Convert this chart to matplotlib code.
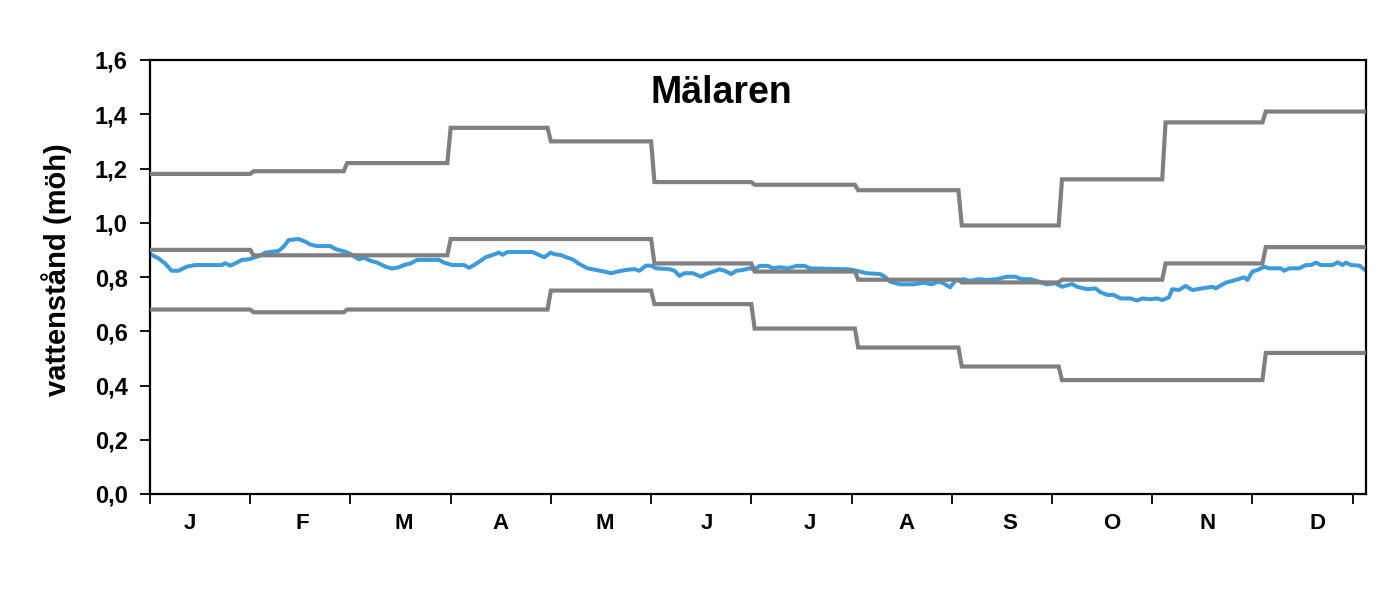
import numpy as np
import matplotlib
matplotlib.use("Agg")
import matplotlib.pyplot as plt

# ---- data ----
month_lengths = [31, 28, 31, 30, 31, 30, 31, 31, 30, 31, 30, 31]
month_labels = ["J", "F", "M", "A", "M", "J", "J", "A", "S", "O", "N", "D"]
month_label_days = [12, 45.6, 76, 105, 136, 166.6, 197.5, 226.6, 257.5, 288, 316.7, 349.4]

max_level = [1.18, 1.19, 1.22, 1.35, 1.30, 1.15, 1.14, 1.12, 0.99, 1.16, 1.37, 1.41]
mean_level = [0.90, 0.88, 0.88, 0.94, 0.94, 0.85, 0.82, 0.79, 0.78, 0.79, 0.85, 0.91]
min_level = [0.68, 0.67, 0.68, 0.68, 0.75, 0.70, 0.61, 0.54, 0.47, 0.42, 0.42, 0.52]

obs_day = [0, 2.5, 4.5, 6.5, 8.5, 11, 13.5, 21.5, 22.5, 24, 25.5, 27.5, 29.5, 31.5, 33,
           34.5, 36.5, 38.5, 40, 41.5, 44.5, 46.5, 48, 50, 54, 55.5, 58.5, 60, 62.5, 64,
           66, 68, 70.5, 72.5, 74.5, 76, 78, 80, 86.5, 88, 90.5, 94, 95.5, 97, 98.5,
           100.5, 102.5, 104.5, 105.5, 107, 114.5, 116.5, 118, 120, 121, 123, 124.5,
           126.5, 128.5, 131, 133.5, 136, 138, 140, 142.5, 145, 146.5, 148.5, 150, 151.5,
           155.5, 157, 158.5, 160, 162.5, 165, 166.5, 168.5, 170.5, 172, 174, 175.5,
           177.5, 179.5, 181, 182.5, 185, 186.5, 188.5, 191, 193.5, 196, 197.5, 209.5,
           212.5, 214.5, 218.5, 220, 221.5, 224.5, 228.5, 231.5, 234, 236, 237.5, 239.5,
           241, 243.5, 245.5, 248, 250.5, 253.5, 256.5, 259, 261, 263.5, 266, 268.5, 271,
           273, 276, 277.5, 280.5, 283, 284.5, 286.5, 288.5, 290.5, 293.5, 295.5, 297,
           299.5, 301.5, 303, 305, 306, 308, 310, 312, 315, 318, 319, 322, 325, 327.5,
           328.5, 330, 332, 333.5, 335, 338.5, 339.5, 341, 344, 346, 347.5, 349, 350.5,
           354, 355.5, 357, 358, 359.5, 362, 363.5]
obs_level = [0.885, 0.869, 0.850, 0.823, 0.823, 0.838, 0.844, 0.844, 0.851, 0.842, 0.850,
             0.863, 0.865, 0.873, 0.879, 0.890, 0.893, 0.896, 0.912, 0.936, 0.940, 0.930,
             0.920, 0.914, 0.914, 0.903, 0.893, 0.885, 0.865, 0.871, 0.860, 0.853, 0.838,
             0.831, 0.836, 0.844, 0.850, 0.863, 0.863, 0.853, 0.844, 0.844, 0.834, 0.844,
             0.856, 0.873, 0.881, 0.890, 0.882, 0.892, 0.892, 0.881, 0.873, 0.890, 0.884,
             0.881, 0.873, 0.865, 0.848, 0.832, 0.826, 0.820, 0.814, 0.820, 0.826, 0.829,
             0.823, 0.842, 0.842, 0.832, 0.829, 0.823, 0.804, 0.814, 0.814, 0.801, 0.811,
             0.820, 0.828, 0.823, 0.811, 0.823, 0.826, 0.832, 0.828, 0.841, 0.841, 0.832,
             0.836, 0.832, 0.841, 0.841, 0.832, 0.828, 0.820, 0.814, 0.811, 0.801, 0.783,
             0.773, 0.773, 0.779, 0.773, 0.783, 0.777, 0.762, 0.786, 0.792, 0.786, 0.792,
             0.789, 0.792, 0.801, 0.801, 0.792, 0.792, 0.783, 0.773, 0.777, 0.764, 0.774,
             0.764, 0.755, 0.758, 0.744, 0.734, 0.734, 0.721, 0.721, 0.713, 0.721, 0.718,
             0.721, 0.715, 0.725, 0.755, 0.752, 0.767, 0.752, 0.758, 0.764, 0.758, 0.779,
             0.789, 0.799, 0.789, 0.820, 0.828, 0.838, 0.832, 0.832, 0.823, 0.832, 0.832,
             0.844, 0.844, 0.853, 0.844, 0.844, 0.854, 0.844, 0.853, 0.844, 0.842, 0.828]

y_ticks = [0.0, 0.2, 0.4, 0.6, 0.8, 1.0, 1.2, 1.4, 1.6]


def step_series(values):
    starts = np.concatenate([[0], np.cumsum(month_lengths)[:-1]])
    ends = starts + np.array(month_lengths) - 1
    xs, ys = [], []
    for s, e, v in zip(starts, ends, values):
        xs += [s, e]
        ys += [v, v]
    return np.array(xs, float), np.array(ys, float)


plt.rcParams['font.family'] = ['Liberation Sans', 'DejaVu Sans']

fig = plt.figure(figsize=(13.88, 6.16), dpi=100)
ax = fig.add_axes([150 / 1388, 1 - 494 / 616, 1216 / 1388, 434 / 616])

blue = "#3E9BDA"
gray = "#808080"
ax.plot(obs_day, obs_level, color=blue, lw=2.9, zorder=2, solid_joinstyle="round")
for series in (max_level, mean_level, min_level):
    x, y = step_series(series)
    ax.plot(x, y, color=gray, lw=3.0, zorder=3, solid_joinstyle="miter")

ax.set_xlim(0, 364)
ax.set_ylim(0, 1.6)

ax.set_yticks(y_ticks)
ax.set_yticklabels([f"{t:.1f}".replace(".", ",") for t in y_ticks],
                   fontsize=17, fontweight="bold")
ax.set_xticks(np.arange(0, 361, 30))
ax.set_xticklabels([])
ax.set_xticks(month_label_days, minor=True)
ax.set_xticklabels(month_labels, minor=True, fontsize=16, fontweight="bold")
ax.tick_params(axis="x", which="minor", length=0, pad=14)
ax.tick_params(axis="x", which="major", length=7, width=1.3, direction="out")
ax.tick_params(axis="y", length=7, width=1.3, direction="out", pad=9)

for sp in ax.spines.values():
    sp.set_linewidth(1.6)
    sp.set_color("black")

ax.set_ylabel("vattenstånd (möh)", fontsize=21, fontweight="bold")
ax.yaxis.set_label_coords(-0.064, 0.518)
ax.text(0.47, 0.924, "Mälaren", transform=ax.transAxes, fontsize=27,
        fontweight="bold", ha="center", va="center")

fig.savefig("out.png", dpi=100)
